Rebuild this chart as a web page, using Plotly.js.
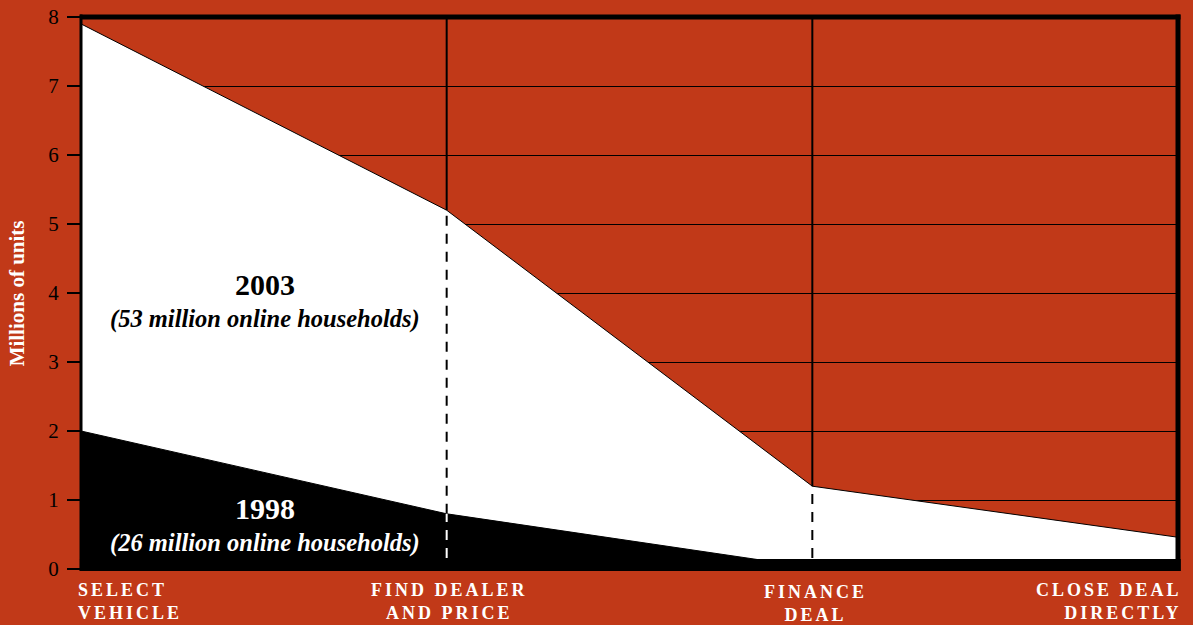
<!DOCTYPE html>
<html>
<head>
<meta charset="utf-8">
<script src="https://cdn.plot.ly/plotly-3.0.1.min.js"></script>
<style>
html, body { margin:0; padding:0; background:#C13918; }
#chart { width:1193px; height:625px; }
</style>
</head>
<body>
<div id="chart"></div>
<script>
// ---- data ----
var categories = ['SELECT VEHICLE', 'FIND DEALER AND PRICE', 'FINANCE DEAL', 'CLOSE DEAL DIRECTLY'];
var categoryLabels = ['SELECT<br>VEHICLE', 'FIND DEALER<br>AND PRICE', 'FINANCE<br>DEAL', 'CLOSE DEAL<br>DIRECTLY'];
var units2003 = [7.9, 5.2, 1.2, 0.46];
var units1998 = [2.0, 0.8, 0.02, 0.02];
var seriesNames = ['2003', '1998'];
var seriesNotes = ['(53 million online households)', '(26 million online households)'];
var yTickValues = [0, 1, 2, 3, 4, 5, 6, 7, 8];
var yTitle = 'Millions of units';

var RED = '#C13918';
var SERIF = '"Liberation Serif", "Times New Roman", serif';
var bandTop = 0.16; // top of the thick bottom bar, in data units

var traces = [
  {
    x: categories, y: units2003, name: seriesNames[0], type: 'scatter', mode: 'lines',
    fill: 'tozeroy', fillcolor: '#ffffff', line: {color: '#000000', width: 1}, hoverinfo: 'skip'
  },
  {
    x: categories, y: units1998, name: seriesNames[1], type: 'scatter', mode: 'lines',
    fill: 'tozeroy', fillcolor: '#000000', line: {color: '#000000', width: 1}, hoverinfo: 'skip'
  }
];

var shapes = [];
// vertical markers at the two middle steps
[1, 2].forEach(function(i) {
  shapes.push({type: 'line', xref: 'x', yref: 'y', x0: categories[i], x1: categories[i],
    y0: units2003[i], y1: 8, line: {color: '#000', width: 2}});
  var lowBlack = Math.max(units1998[i], bandTop);
  shapes.push({type: 'line', xref: 'x', yref: 'y', x0: categories[i], x1: categories[i],
    y0: lowBlack, y1: units2003[i], line: {color: '#000', width: 2, dash: '10px,8px'}});
  if (units1998[i] > bandTop) {
    shapes.push({type: 'line', xref: 'x', yref: 'y', x0: categories[i], x1: categories[i],
      y0: bandTop, y1: units1998[i], line: {color: '#fff', width: 2, dash: '10px,8px'}});
  }
});
// frame
shapes.push({type: 'rect', xref: 'paper', yref: 'paper', x0: -0.001, x1: 1.0025, y0: -0.0036, y1: 0.018,
  fillcolor: '#000', line: {width: 0}, layer: 'above'});
shapes.push({type: 'line', xref: 'paper', yref: 'paper', x0: -0.001, x1: 1.0023, y0: 1, y1: 1,
  line: {color: '#000', width: 5}, layer: 'above'});
shapes.push({type: 'line', xref: 'paper', yref: 'paper', x0: 1, x1: 1, y0: -0.0036, y1: 1.0045,
  line: {color: '#000', width: 5}, layer: 'above'});
shapes.push({type: 'line', xref: 'paper', yref: 'paper', x0: 0, x1: 0, y0: -0.0036, y1: 1.0045,
  line: {color: '#000', width: 3}, layer: 'above'});

function spaced(t) { return t.split('<br>').map(function(s){ return '<span style="letter-spacing:3px">' + s + '</span>'; }).join('<br>'); }

var labelFont = {family: SERIF, size: 18, color: '#fff', weight: 'bold'};
var annotations = [
  {xref: 'x', yref: 'paper', x: categories[0], y: -0.058, xanchor: 'left', yanchor: 'middle', align: 'left',
   text: spaced(categoryLabels[0]), showarrow: false, font: labelFont, xshift: -5},
  {xref: 'x', yref: 'paper', x: categories[1], y: -0.058, xanchor: 'center', yanchor: 'middle', align: 'center',
   text: spaced(categoryLabels[1]), showarrow: false, font: labelFont, xshift: 3},
  {xref: 'x', yref: 'paper', x: categories[2], y: -0.0625, xanchor: 'center', yanchor: 'middle', align: 'center',
   text: spaced(categoryLabels[2]), showarrow: false, font: labelFont, xshift: 3},
  {xref: 'x', yref: 'paper', x: categories[3], y: -0.058, xanchor: 'right', yanchor: 'middle', align: 'right',
   text: spaced(categoryLabels[3]), showarrow: false, font: labelFont, xshift: 6},
  // series labels
  {xref: 'paper', yref: 'y', x: 0.1677, y: 4.12, xanchor: 'center', text: seriesNames[0], showarrow: false,
   font: {family: SERIF, size: 30, color: '#000', weight: 'bold'}},
  {xref: 'paper', yref: 'y', x: 0.1677, y: 3.63, xanchor: 'center', text: seriesNotes[0], showarrow: false,
   font: {family: SERIF, size: 24.5, color: '#000', weight: 'bold', style: 'italic'}},
  {xref: 'paper', yref: 'y', x: 0.1677, y: 0.88, xanchor: 'center', text: seriesNames[1], showarrow: false,
   font: {family: SERIF, size: 30, color: '#fff', weight: 'bold'}},
  {xref: 'paper', yref: 'y', x: 0.1677, y: 0.38, xanchor: 'center', text: seriesNotes[1], showarrow: false,
   font: {family: SERIF, size: 24.5, color: '#fff', weight: 'bold', style: 'italic'}},
  // y title
  {xref: 'paper', yref: 'paper', x: -0.058, y: 0.5, text: yTitle, textangle: -90, showarrow: false,
   xanchor: 'center', yanchor: 'middle', font: {family: SERIF, size: 21, color: '#fff', weight: 'bold'}}
];

var layout = {
  width: 1193, height: 625,
  margin: {l: 81, r: 15, t: 17, b: 56, pad: 0},
  paper_bgcolor: RED, plot_bgcolor: RED,
  showlegend: false,
  xaxis: {type: 'category', categoryarray: categories, range: [0, 3], showticklabels: false,
    showgrid: false, zeroline: false, showline: false, ticks: '', fixedrange: true},
  yaxis: {range: [0, 8], tickvals: yTickValues, ticktext: yTickValues.map(String),
    showgrid: true, gridcolor: '#000', gridwidth: 1, zeroline: false, showline: false,
    ticks: 'outside', ticklen: 13, tickwidth: 2, tickcolor: '#000', ticklabelstandoff: 4,
    tickfont: {family: SERIF, size: 21, color: '#000'}, fixedrange: true},
  shapes: shapes,
  annotations: annotations
};

Plotly.newPlot('chart', traces, layout, {displayModeBar: false, staticPlot: true});
</script>
</body>
</html>
